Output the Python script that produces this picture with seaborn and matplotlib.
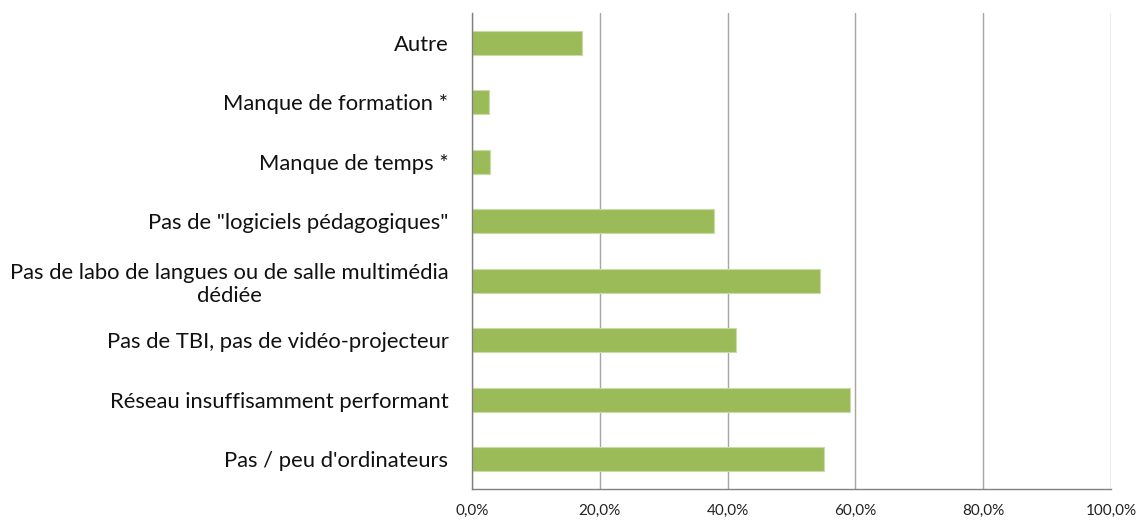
import matplotlib
matplotlib.use("Agg")
import matplotlib.pyplot as plt
import seaborn as sns
import pandas as pd
import numpy as np
from matplotlib.ticker import FixedLocator, FuncFormatter

categories = [
    "Autre",
    "Manque de formation *",
    "Manque de temps *",
    "Pas de \"logiciels pédagogiques\"",
    "Pas de labo de langues ou de salle multimédia\ndédiée",
    "Pas de TBI, pas de vidéo-projecteur",
    "Réseau insuffisamment performant",
    "Pas / peu d'ordinateurs",
]
values = [17.2, 2.6, 2.8, 37.9, 54.5, 41.3, 59.1, 55.1]
xticks = [0, 20, 40, 60, 80, 100]

df = pd.DataFrame({"cat": categories, "val": values})

sns.set_style("white")
plt.rcParams['font.family'] = ['Lato', 'DejaVu Sans']

fig = plt.figure(figsize=(11.43, 5.2), dpi=100)
ax = fig.add_axes([472/1143, 31/520, (1111-472)/1143, (489-13)/520])

sns.barplot(data=df, x="val", y="cat", order=categories, orient="h",
            color="#9BBB59", saturation=1, width=0.4, ax=ax,
            edgecolor="#C9DCA6", linewidth=0.8, zorder=3)

ax.set_xlim(0, 100)
ax.set_ylim(len(categories) - 0.5, -0.5)
ax.set_xlabel("")
ax.set_ylabel("")

ax.set_xticks(xticks)
ax.xaxis.set_major_formatter(FuncFormatter(lambda v, p: f"{v:.1f}%".replace(".", ",")))
ax.tick_params(axis="x", length=5, color="#808080", width=1, labelsize=11,
               labelcolor="#222222", pad=6, direction="out")
ax.grid(axis="x", color="#A6A6A6", linewidth=1, zorder=0)
ax.grid(axis="y", visible=False)

ax.tick_params(axis="y", which="major", length=0, labelsize=15.8,
               labelcolor="#111111", pad=17)
ax.yaxis.set_minor_locator(FixedLocator(np.arange(-0.5, len(categories), 1.0)))
ax.tick_params(axis="y", which="minor", length=7, color="#808080", width=1, direction="out")
for lbl in ax.get_yticklabels():
    lbl.set_multialignment("center")
    lbl.set_linespacing(1.2)

for s in ["top", "right"]:
    ax.spines[s].set_visible(False)
for s in ["left", "bottom"]:
    ax.spines[s].set_color("#808080")
    ax.spines[s].set_linewidth(1)
    ax.spines[s].set_zorder(4)

fig.savefig("out.png", dpi=100)
